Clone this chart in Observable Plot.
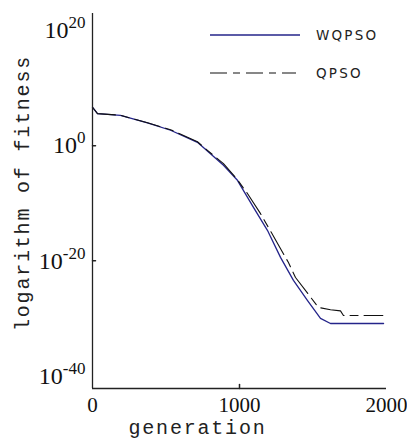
<!DOCTYPE html>
<html>
<head>
<meta charset="utf-8">
<script src="https://cdn.jsdelivr.net/npm/d3@7"></script>
<script src="https://cdn.jsdelivr.net/npm/@observablehq/plot@0.6"></script>
<style>
body{margin:0;background:#fff;}
#chart{position:relative;width:407px;height:447px;}
#legend{position:absolute;left:0;top:0;}
</style>
</head>
<body>
<div id="chart"></div>
<script>
// ---- data ----
const seriesNames = ["WQPSO", "QPSO"];
const wqpsoGen = [0, 34, 190, 374, 531, 714, 891, 986, 1095, 1190, 1279, 1367, 1463, 1551, 1619, 1980];
const wqpsoExp = [6.7, 5.6, 5.3, 4.0, 2.7, 0.6, -3.4, -6.0, -10.7, -14.7, -19.4, -23.4, -26.9, -30.0, -30.9, -30.9];
const qpsoGen = [0, 34, 190, 374, 531, 714, 782, 891, 986, 1054, 1143, 1197, 1333, 1381, 1537, 1619, 1687, 1707, 1975];
const qpsoExp = [6.7, 5.6, 5.3, 4.0, 2.8, 0.7, -0.8, -3.1, -5.9, -8.3, -11.8, -14.2, -20.3, -22.9, -28.1, -28.5, -28.7, -29.5, -29.5];
const xTicks = [0, 1000, 2000];
const yTickExps = [20, 0, -20, -40];
const yDomainExps = [-42.2, 23];
const xLabel = "generation";
const yLabel = "logarithm of fitness";

const wqpso = wqpsoGen.map((g, i) => ({gen: g, fit: 10 ** wqpsoExp[i]}));
const qpso = qpsoGen.map((g, i) => ({gen: g, fit: 10 ** qpsoExp[i]}));
const yMin = 10 ** yDomainExps[0], yMax = 10 ** yDomainExps[1];
const yTicks = yTickExps.map(e => 10 ** e);
const tickShape = {draw(context, l) { context.moveTo(0, 0); context.lineTo(0, -l); }};

const plot = Plot.plot({
  width: 407,
  height: 447,
  marginLeft: 92,
  marginRight: 21,
  marginTop: 13,
  marginBottom: 59,
  style: {background: "#fff", color: "#111", fontFamily: "Liberation Serif"},
  x: {domain: [0, 2000]},
  y: {type: "log", domain: [yMin, yMax]},
  marks: [
    Plot.axisX({ticks: xTicks, tickSize: 0, tickPadding: 9, tickFormat: d => String(d), label: null, fontSize: 21}),
    Plot.axisY({ticks: yTicks, tickSize: 0, tickPadding: 7, tickFormat: d => String(Math.round(Math.log10(d))), label: null, fontSize: 24}),
    Plot.vector(xTicks.slice(1, 2), {x: d => d, frameAnchor: "bottom", length: 4, rotate: 0, anchor: "start", shape: tickShape, stroke: "#222"}),
    Plot.vector(yTicks.slice(1, 3), {y: d => d, frameAnchor: "left", length: 3, rotate: 90, anchor: "start", shape: tickShape, stroke: "#222"}),
    Plot.line(wqpso, {x: "gen", y: "fit", stroke: "#24248a", strokeWidth: 1.3}),
    Plot.line(qpso, {x: "gen", y: "fit", stroke: "#111", strokeWidth: 1.1, strokeDasharray: "26,6,8,6"}),
    Plot.ruleX([0], {stroke: "#222", strokeWidth: 1.3}),
    Plot.ruleY([yMin], {stroke: "#222", strokeWidth: 1.3}),
    Plot.text([xLabel], {frameAnchor: "bottom", textAnchor: "middle", dx: -42, dy: 45, fontFamily: "Liberation Mono", fontSize: 20, fill: "#222"}),
    Plot.text([yLabel], {frameAnchor: "left", textAnchor: "middle", rotate: -90, dx: -70, dy: -8, fontFamily: "Liberation Mono", fontSize: 20, fill: "#222"})
  ]
});

// render y tick labels as 10^exp with superscripts
plot.querySelectorAll('g[aria-label="y-axis tick label"] text').forEach(t => {
  const exp = t.textContent;
  t.textContent = "";
  const base = document.createElementNS("http://www.w3.org/2000/svg", "tspan");
  base.textContent = "10";
  const sup = document.createElementNS("http://www.w3.org/2000/svg", "tspan");
  sup.textContent = exp;
  sup.setAttribute("dy", "-10");
  sup.setAttribute("font-size", "17");
  t.appendChild(base);
  t.appendChild(sup);
});
// letter spacing for axis titles
plot.querySelectorAll('g[aria-label="text"] text').forEach(t => t.setAttribute("letter-spacing", "1.8"));

document.getElementById("chart").appendChild(plot);

// legend (top right, inside the plot area)
const ns = "http://www.w3.org/2000/svg";
const leg = document.createElementNS(ns, "svg");
leg.setAttribute("id", "legend");
leg.setAttribute("width", "407");
leg.setAttribute("height", "447");
const legendStyles = [
  {stroke: "#24248a", width: 1.3, dash: null},
  {stroke: "#111", width: 1.1, dash: "17,6,7,6"}
];
seriesNames.forEach((name, i) => {
  const y = 35 + i * 38;
  const l = document.createElementNS(ns, "line");
  l.setAttribute("x1", 210); l.setAttribute("x2", i === 0 ? 300 : 296);
  l.setAttribute("y1", y); l.setAttribute("y2", y);
  l.setAttribute("stroke", legendStyles[i].stroke);
  l.setAttribute("stroke-width", legendStyles[i].width);
  if (legendStyles[i].dash) l.setAttribute("stroke-dasharray", legendStyles[i].dash);
  leg.appendChild(l);
  const t = document.createElementNS(ns, "text");
  t.setAttribute("x", 316); t.setAttribute("y", y + 5);
  t.setAttribute("font-family", "DejaVu Sans");
  t.setAttribute("font-size", "13.5");
  t.setAttribute("letter-spacing", "2.2");
  t.setAttribute("fill", "#222");
  t.textContent = name;
  leg.appendChild(t);
});
document.getElementById("chart").appendChild(leg);
</script>
</body>
</html>
